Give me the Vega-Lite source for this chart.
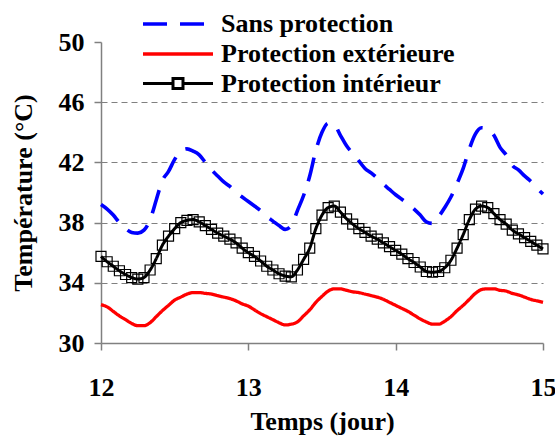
{
  "$schema": "https://vega.github.io/schema/vega-lite/v6.json",
  "width": 442,
  "height": 301,
  "autosize": "none",
  "padding": {"left": 101, "top": 42, "right": 12, "bottom": 98},
  "background": "white",
  "config": {
    "view": {"stroke": null},
    "axis": {
      "labelFont": "Liberation Serif, Times New Roman, serif", "labelFontWeight": "bold", "labelFontSize": 26, "labelColor": "black",
      "titleFont": "Liberation Serif, Times New Roman, serif", "titleFontWeight": "bold", "titleFontSize": 26, "titleColor": "black",
      "domainColor": "#808080", "domainWidth": 1.5, "tickColor": "#808080", "tickWidth": 1.5, "tickSize": 7, "labelFlush": false
    },
    "legend": {"labelFont": "Liberation Serif, Times New Roman, serif", "labelFontWeight": "bold", "labelFontSize": 26, "labelColor": "black", "labelLimit": 0}
  },
  "data": {"values": [
    {"t":12,"sans":39.2,"ext":32.55,"int":35.75},
    {"t":12.0417,"sans":38.9,"ext":32.4,"int":35.4},
    {"t":12.0833,"sans":38.5,"ext":32.1,"int":35.1},
    {"t":12.125,"sans":38.0,"ext":31.8,"int":34.8},
    {"t":12.1667,"sans":37.6,"ext":31.55,"int":34.55},
    {"t":12.2083,"sans":37.35,"ext":31.3,"int":34.35},
    {"t":12.25,"sans":37.3,"ext":31.15,"int":34.25},
    {"t":12.2917,"sans":37.5,"ext":31.15,"int":34.35},
    {"t":12.3333,"sans":38.2,"ext":31.35,"int":34.85},
    {"t":12.375,"sans":39.5,"ext":31.75,"int":35.6},
    {"t":12.4167,"sans":40.8,"ext":32.15,"int":36.5},
    {"t":12.4583,"sans":41.4,"ext":32.5,"int":37.1},
    {"t":12.5,"sans":42.2,"ext":32.85,"int":37.6},
    {"t":12.5417,"sans":42.75,"ext":33.05,"int":38.0},
    {"t":12.5833,"sans":42.9,"ext":33.25,"int":38.15},
    {"t":12.625,"sans":42.75,"ext":33.35,"int":38.2},
    {"t":12.6667,"sans":42.5,"ext":33.35,"int":38.05},
    {"t":12.7083,"sans":42.0,"ext":33.3,"int":37.8},
    {"t":12.75,"sans":41.5,"ext":33.25,"int":37.55},
    {"t":12.7917,"sans":41.1,"ext":33.15,"int":37.3},
    {"t":12.8333,"sans":40.7,"ext":33.05,"int":37.1},
    {"t":12.875,"sans":40.4,"ext":32.95,"int":36.9},
    {"t":12.9167,"sans":40.0,"ext":32.8,"int":36.65},
    {"t":12.9583,"sans":39.7,"ext":32.6,"int":36.3},
    {"t":13,"sans":39.4,"ext":32.45,"int":36.0},
    {"t":13.0417,"sans":39.1,"ext":32.2,"int":35.75},
    {"t":13.0833,"sans":38.8,"ext":31.95,"int":35.45},
    {"t":13.125,"sans":38.4,"ext":31.75,"int":35.1},
    {"t":13.1667,"sans":38.1,"ext":31.55,"int":34.85},
    {"t":13.2083,"sans":37.8,"ext":31.35,"int":34.6},
    {"t":13.25,"sans":37.55,"ext":31.2,"int":34.45},
    {"t":13.2917,"sans":37.8,"ext":31.25,"int":34.4},
    {"t":13.3333,"sans":38.8,"ext":31.4,"int":34.85},
    {"t":13.375,"sans":39.8,"ext":31.8,"int":35.55},
    {"t":13.4167,"sans":41.1,"ext":32.2,"int":36.3},
    {"t":13.4583,"sans":42.8,"ext":32.7,"int":37.6},
    {"t":13.5,"sans":44.0,"ext":33.1,"int":38.5},
    {"t":13.5417,"sans":44.6,"ext":33.45,"int":39.0},
    {"t":13.5833,"sans":44.5,"ext":33.6,"int":39.1},
    {"t":13.625,"sans":43.8,"ext":33.6,"int":38.7},
    {"t":13.6667,"sans":43.1,"ext":33.5,"int":38.25},
    {"t":13.7083,"sans":42.6,"ext":33.4,"int":37.9},
    {"t":13.75,"sans":42.1,"ext":33.35,"int":37.6},
    {"t":13.7917,"sans":41.6,"ext":33.25,"int":37.35},
    {"t":13.8333,"sans":41.3,"ext":33.15,"int":37.1},
    {"t":13.875,"sans":40.95,"ext":33.05,"int":36.9},
    {"t":13.9167,"sans":40.55,"ext":32.9,"int":36.65},
    {"t":13.9583,"sans":40.2,"ext":32.7,"int":36.4},
    {"t":14,"sans":39.85,"ext":32.5,"int":36.15},
    {"t":14.0417,"sans":39.55,"ext":32.3,"int":35.9},
    {"t":14.0833,"sans":39.25,"ext":32.1,"int":35.6},
    {"t":14.125,"sans":38.9,"ext":31.85,"int":35.35},
    {"t":14.1667,"sans":38.5,"ext":31.6,"int":35.05},
    {"t":14.2083,"sans":38.05,"ext":31.4,"int":34.75},
    {"t":14.25,"sans":37.95,"ext":31.25,"int":34.7},
    {"t":14.2917,"sans":38.4,"ext":31.25,"int":34.75},
    {"t":14.3333,"sans":39.0,"ext":31.45,"int":35.0},
    {"t":14.375,"sans":39.7,"ext":31.75,"int":35.5},
    {"t":14.4167,"sans":40.6,"ext":32.15,"int":36.3},
    {"t":14.4583,"sans":41.6,"ext":32.5,"int":37.2},
    {"t":14.5,"sans":42.9,"ext":32.9,"int":38.2},
    {"t":14.5417,"sans":43.9,"ext":33.3,"int":38.9},
    {"t":14.5833,"sans":44.3,"ext":33.55,"int":39.1},
    {"t":14.625,"sans":44.2,"ext":33.6,"int":39.0},
    {"t":14.6667,"sans":43.8,"ext":33.6,"int":38.6},
    {"t":14.7083,"sans":43.0,"ext":33.5,"int":38.2},
    {"t":14.75,"sans":42.5,"ext":33.45,"int":37.9},
    {"t":14.7917,"sans":41.8,"ext":33.3,"int":37.5},
    {"t":14.8333,"sans":41.5,"ext":33.2,"int":37.25},
    {"t":14.875,"sans":41.1,"ext":33.05,"int":37.0},
    {"t":14.9167,"sans":40.75,"ext":32.9,"int":36.75},
    {"t":14.9583,"sans":40.3,"ext":32.8,"int":36.5},
    {"t":15,"sans":39.9,"ext":32.7,"int":36.25}
  ]},
  "layer": [
    {
      "transform": [{"fold": ["sans", "ext", "int"], "as": ["serie", "temp"]}],
      "mark": {"type": "line", "interpolate": "monotone"},
      "encoding": {
        "x": {"field": "t", "type": "quantitative",
              "scale": {"domain": [12, 15], "nice": false, "zero": false},
              "axis": {"values": [12, 13, 14, 15], "format": "d", "title": "Temps (jour)", "grid": false, "labelPadding": 24, "titlePadding": 8}},
        "y": {"field": "temp", "type": "quantitative",
              "scale": {"domain": [30, 50], "nice": false, "zero": false},
              "axis": {"values": [30, 34, 38, 42, 46, 50], "title": "Température (°C)", "labelPadding": 10, "titlePadding": 22,
                       "grid": true, "gridColor": "#808080", "gridDash": [6, 4], "gridWidth": 1.2,
                       "gridOpacity": {"condition": {"test": "datum.value == 30 || datum.value == 50", "value": 0}, "value": 1}}},
        "color": {"field": "serie", "type": "nominal",
                  "scale": {"domain": ["sans", "ext", "int"], "range": ["#0000FF", "#FF0000", "#000000"]},
                  "legend": {"orient": "none", "legendX": 60, "legendY": -35, "title": null, "padding": 0,
                             "labelExpr": "datum.value == 'sans' ? 'Sans protection' : datum.value == 'ext' ? 'Protection extérieure' : 'Protection intérieur'",
                             "symbolSize": 900, "labelOffset": 26, "rowPadding": 0,
                             "encode": {"symbols": {"update": {
                               "shape": [{"test": "datum.value === 'int'", "value": "M-2.333,0H-0.333M0.333,0H2.333M-0.333,-0.333H0.333V0.333H-0.333Z"}, {"value": "M-2.333,0H2.333"}],
                               "strokeWidth": [{"test": "datum.value === 'sans'", "value": 4}, {"test": "datum.value === 'ext'", "value": 3.2}, {"value": 1.4}],
                               "fill": {"value": "transparent"}
                             }}}}},
        "strokeDash": {"field": "serie", "type": "nominal",
                       "scale": {"domain": ["sans", "ext", "int"], "range": [[24, 13], [1, 0], [1, 0]]}},
        "strokeWidth": {"field": "serie", "type": "nominal",
                        "scale": {"domain": ["sans", "ext", "int"], "range": [3.6, 3, 1.3]}, "legend": null}
      }
    },
    {
      "mark": {"type": "point", "shape": "square", "size": 100, "filled": false, "color": "black", "strokeWidth": 1.2, "opacity": 1},
      "encoding": {
        "x": {"field": "t", "type": "quantitative"},
        "y": {"field": "int", "type": "quantitative"}
      }
    }
  ]
}
